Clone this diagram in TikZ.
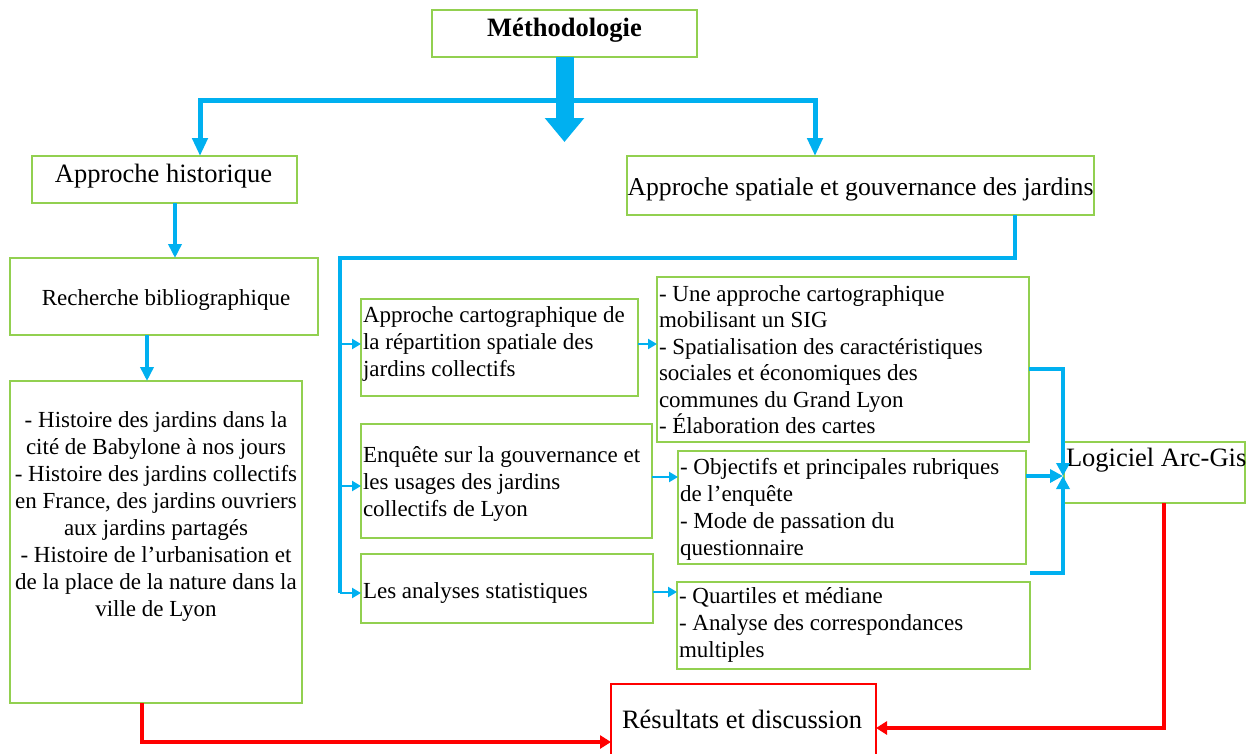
\documentclass[tikz,border=0pt]{standalone}
\usepackage{fontspec}
\setmainfont{Liberation Serif}
\usetikzlibrary{arrows.meta}
\definecolor{cblue}{HTML}{00B0F0}
\definecolor{cgreen}{HTML}{92D050}
\definecolor{cred}{HTML}{FF0000}
\newcommand\bodyf{\fontsize{23}{27}\selectfont}
\newcommand\histf{\fontsize{23}{27.1}\selectfont}
\newcommand\rone{\fontsize{23}{26.5}\selectfont}
\newcommand\headf{\fontsize{26.5}{30}\selectfont}
\newcommand\spatf{\fontsize{25.7}{30}\selectfont}
\newcommand\fstrut{\rule{0pt}{22pt}}
\begin{document}
\begin{tikzpicture}[x=1pt,y=-1pt,
  gbox/.style={draw=cgreen, line width=1.6pt, inner sep=0pt, outer sep=0pt, anchor=north west},
  rbox/.style={draw=cred, line width=1.4pt, inner sep=0pt, outer sep=0pt, anchor=north west},
  txt/.style={inner sep=0pt, outer sep=0pt, text=black},
  bigarrow/.style={draw=cblue, line width=18pt, -{Triangle[length=24pt,width=38pt]}},
  mainline/.style={draw=cblue, line width=5pt, -{Triangle[length=18pt,width=15pt]}},
  midarrow/.style={draw=cblue, line width=3.5pt, -{Triangle[length=14pt,width=13pt]}},
  busline/.style={draw=cblue, line width=3.5pt},
  smallarrow/.style={draw=cblue, line width=2.2pt, -{Triangle[length=9pt,width=10pt]}},
  gisarrow/.style={draw=cblue, line width=4.5pt, -{Triangle[length=13pt,width=13pt]}},
  redarrow/.style={draw=cred, line width=4pt, -{Triangle[length=11pt,width=13pt]}},
]
\fill[white] (0,0) rectangle (1256,753);
\useasboundingbox (0,0) rectangle (1256,753);

% boxes
\node[gbox, minimum width=265pt, minimum height=47pt] (meth) at (432,10) {};
\node[gbox, minimum width=265pt, minimum height=47pt] (hist) at (32,156) {};
\node[gbox, minimum width=467pt, minimum height=59pt] (spat) at (627,156) {};
\node[gbox, minimum width=308pt, minimum height=77pt] (rech) at (10,258) {};
\node[gbox, minimum width=292pt, minimum height=322pt] (hb) at (10,381) {};
\node[gbox, minimum width=277pt, minimum height=97pt] (a1) at (361,299) {};
\node[gbox, minimum width=291pt, minimum height=114pt] (a2) at (361,424) {};
\node[gbox, minimum width=292pt, minimum height=69pt] (a3) at (361,554) {};
\node[gbox, minimum width=372pt, minimum height=165pt] (r1) at (657,277) {};
\node[gbox, minimum width=348pt, minimum height=113pt] (r2) at (678,451) {};
\node[gbox, minimum width=353pt, minimum height=87pt] (r3) at (677,582) {};
\node[gbox, minimum width=181pt, minimum height=61pt] (logi) at (1064,442) {};
\node[rbox, minimum width=265pt, minimum height=72pt] (res) at (611,684) {};

% texts
\node[txt, anchor=base, font=\headf\bfseries] (tmeth) at (564.5,36) {Méthodologie};
\node[txt, anchor=base, font=\headf] (thist) at (163.5,182) {Approche historique};
\node[txt, anchor=base, font=\spatf] (tspat) at (860.5,195) {Approche spatiale et gouvernance des jardins};
\node[txt, anchor=base, font=\bodyf] (trech) at (166,305) {Recherche bibliographique};
\node[txt, anchor=north, align=center, font=\histf] (thb) at (156,405) {\fstrut - Histoire des jardins dans la\\cité de Babylone à nos jours\\- Histoire des jardins collectifs\\en France, des jardins ouvriers\\aux jardins partagés\\- Histoire de l’urbanisation et\\de la place de la nature dans la\\ville de Lyon};
\node[txt, anchor=north west, align=left, font=\bodyf] (ta1) at (363,300) {\fstrut Approche cartographique de\\la répartition spatiale des\\jardins collectifs};
\node[txt, anchor=north west, align=left, font=\bodyf] (ta2) at (363,440) {\fstrut Enquête sur la gouvernance et\\les usages des jardins\\collectifs de Lyon};
\node[txt, anchor=base west, font=\bodyf] (ta3) at (363,598) {Les analyses statistiques};
\node[txt, anchor=north west, align=left, font=\rone] (tr1) at (659,279) {\fstrut - Une approche cartographique\\mobilisant un SIG\\- Spatialisation des caractéristiques\\sociales et économiques des\\communes du Grand Lyon\\- Élaboration des cartes};
\node[txt, anchor=north west, align=left, font=\bodyf] (tr2) at (680,452) {\fstrut - Objectifs et principales rubriques\\de l’enquête\\- Mode de passation du\\questionnaire};
\node[txt, anchor=north west, align=left, font=\bodyf] (tr3) at (679,581) {\fstrut - Quartiles et médiane\\- Analyse des correspondances\\multiples};
\node[txt, anchor=base west, font=\headf] (tlogi) at (1066,466) {Logiciel Arc-Gis};
\node[txt, anchor=base, font=\headf] (tres) at (742,728) {Résultats et discussion};

% coordinates
\coordinate (mtip) at (564.5,142);
\coordinate (jC) at (564.5,100);
\coordinate (jL) at (200,100);
\coordinate (jR) at (815,100);
\coordinate (hx) at (175,0);
\coordinate (rx) at (147,0);
\coordinate (sx) at (1015,258);
\coordinate (busT) at (340,258);
\coordinate (y1) at (340,344);
\coordinate (y2) at (340,486);
\coordinate (y3) at (340,593);
\coordinate (z1) at (0,344);
\coordinate (z2) at (0,477);
\coordinate (z3) at (0,592);
\coordinate (lg) at (1063,476);
\coordinate (g1) at (0,369);
\coordinate (g3) at (0,573);
\coordinate (rd1) at (142,742);
\coordinate (rd2) at (1164,728);

% connectors
\draw[mainline] (jC) -| (hist.north -| jL);
\draw[mainline] (jC) -| (spat.north -| jR);
\draw[bigarrow] (meth.south) -- (mtip);
\draw[midarrow] (hist.south -| hx) -- (rech.north -| hx);
\draw[midarrow] (rech.south -| rx) -- (hb.north -| rx);
\draw[busline] (spat.south -| sx) -- (sx) -- (busT) -- (y3);
\draw[smallarrow] (y1) -- (y1 -| a1.west);
\draw[smallarrow] (y2) -- (y2 -| a2.west);
\draw[smallarrow] (y3) -- (y3 -| a3.west);
\draw[smallarrow] (z1 -| a1.east) -- (z1 -| r1.west);
\draw[smallarrow] (z2 -| a2.east) -- (z2 -| r2.west);
\draw[smallarrow] (z3 -| a3.east) -- (z3 -| r3.west);
\draw[gisarrow] (g1 -| r1.east) -| (lg);
\draw[gisarrow] (lg -| r2.east) -- (lg);
\draw[gisarrow] (g3 -| r3.east) -| (lg);
\draw[redarrow] (rd1 |- hb.south) |- (rd1 -| res.west);
\draw[redarrow] (rd2 |- logi.south) |- (rd2 -| res.east);
\end{tikzpicture}
\end{document}
